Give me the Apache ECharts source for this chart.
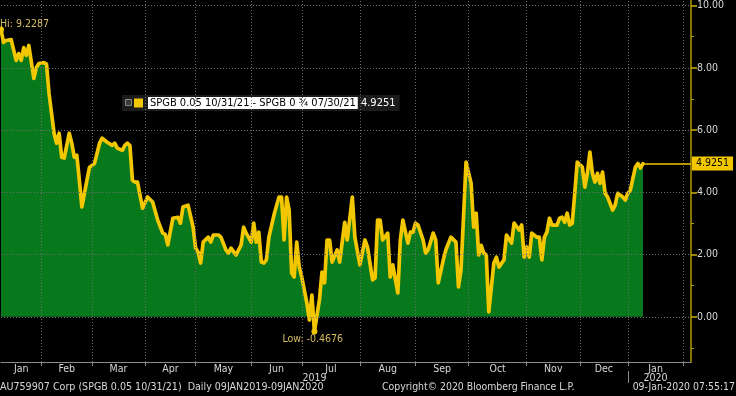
<!DOCTYPE html>
<html>
<head>
<meta charset="utf-8">
<script src="https://cdn.jsdelivr.net/npm/echarts@6/dist/echarts.min.js"></script>
<style>
html,body{margin:0;padding:0;background:#000;}
#chart{width:736px;height:396px;}
</style>
</head>
<body>
<div id="chart"></div>
<script>
// trading-day index (0 = 09 Jan 2019) and spread values
const dayIndex = [0,1,2,4,6,7,8,9,10,11,13,14,15,17,18,19,21,22,23,24,25,27,28,29,30,31,32,34,35,37,39,40,42,44,45,46,48,49,50,51,52,53,54,56,58,60,62,64,65,66,68,70,71,72,74,76,77,78,79,80,82,83,84,86,87,89,90,91,93,95,96,97,99,100,101,102,103,104,105,106,108,110,111,112,113,114,115,116,117,118,119,121,122,123,124,126,127,128,129,130,131,133,134,136,137,139,140,142,144,145,147,148,149,150,151,153,154,155,157,158,159,161,162,163,164,165,167,168,169,171,172,173,175,176,178,180,181,182,183,184,186,187,188,189,190,191,192,193,195,196,197,199,200,202,203,205,206,207,208,209,210,212,213,214,215,216,217,218,220,221,222,223,224,225,226,227,228,230,231,232,233,234,235,236,237,238,239,240,242,243,244,246,247,248,249,251,252,253,254];
const spread = [9.2287,8.82,8.88,8.91,8.24,8.46,8.24,8.65,8.40,8.72,7.66,8.01,8.14,8.17,8.12,7.18,5.90,5.58,5.90,5.13,5.10,5.90,5.58,5.13,5.19,4.39,3.53,4.39,4.80,4.93,5.58,5.74,5.61,5.51,5.58,5.42,5.35,5.51,5.58,5.50,4.39,4.33,4.33,3.49,3.85,3.69,3.11,2.69,2.65,2.31,3.17,3.20,3.01,3.53,3.59,2.88,2.21,2.08,1.73,2.40,2.56,2.40,2.63,2.63,2.56,2.15,2.05,2.21,1.99,2.31,2.88,2.69,2.40,3.01,2.40,2.72,1.76,1.73,1.83,2.56,3.27,3.85,3.85,2.47,3.85,3.43,1.41,1.28,2.40,1.60,1.28,0.45,-0.10,0.70,-0.4676,0.55,1.44,1.09,2.47,2.47,1.76,2.15,1.76,3.04,2.47,3.85,2.56,1.67,2.47,2.24,1.19,1.25,3.11,3.11,2.47,2.69,1.28,1.67,0.77,2.47,3.11,2.37,2.72,2.72,3.01,2.95,2.47,2.05,2.15,2.69,2.47,1.09,1.83,2.15,2.56,2.40,0.96,1.51,3.20,4.97,4.29,2.88,3.33,1.99,2.30,2.05,1.99,0.16,1.73,1.92,1.60,1.83,2.63,2.37,3.01,2.79,2.95,1.92,2.24,1.92,2.69,2.56,2.56,1.83,2.56,2.72,3.17,2.95,2.95,3.17,3.20,3.04,3.33,2.95,3.00,3.97,4.97,4.81,4.17,4.61,5.29,4.61,4.33,4.61,4.29,4.65,3.97,3.85,3.43,3.59,3.97,3.85,3.75,3.97,4.07,4.81,4.93,4.78,4.9251];

// x axis: month boundaries (trading-day index) and labels
const monthStarts = [16,36,57,77,99,119,142,164,185,208,229,248,270];
const monthNames = ['Jan','Feb','Mar','Apr','May','Jun','Jul','Aug','Sep','Oct','Nov','Dec','Jan'];
const yearNames = ['2019','2020'];
const yearLabelPos = [124,259];
const yearBoundary = [248];
const xMax = 273;

// y axis ticks
const yMajor = [0,2,4,6,8,10];
const yMinor = [-1,1,3,5,7,9];
const yMin = -1.45, yMax = 10.18;

const seriesName = 'SPGB 0.05 10/31/21 - SPGB 0 \u00BE 07/30/21';
const FONT = "'DejaVu Sans Condensed','DejaVu Sans',sans-serif";

const data = dayIndex.map((d,i)=>[d, spread[i]]);
const lastIdx = dayIndex[dayIndex.length-1];
const lastVal = spread[spread.length-1];
const bounds = [0].concat(monthStarts);
const labelPos = monthNames.map((n,i)=>(bounds[i]+bounds[i+1])/2);

const gridColor = '#6e6e6e';
const yellow = '#f2c700';
const green = '#08781c';
const txt = '#d8d8d8';

const chart = echarts.init(document.getElementById('chart'), null, {renderer:'canvas'});
chart.setOption({
  backgroundColor:'#000',
  animation:false,
  textStyle:{fontFamily:FONT},
  title:[
    {text:'AU759907 Corp (SPGB 0.05 10/31/21)  Daily 09JAN2019-09JAN2020', left:0, top:382, padding:0,
     textStyle:{color:txt, fontSize:10.6, fontWeight:'normal', fontFamily:FONT}},
    {text:'Copyright\u00A9 2020 Bloomberg Finance L.P.', left:382, top:382, padding:0,
     textStyle:{color:txt, fontSize:10.4, fontWeight:'normal', fontFamily:FONT}},
    {text:'09-Jan-2020 07:55:17', right:1, top:382, padding:0,
     textStyle:{color:txt, fontSize:10.4, fontWeight:'normal', fontFamily:FONT}}
  ],
  graphic:[
    {type:'rect', left:125, top:99, z:100, shape:{width:6, height:6},
     style:{fill:'#3a3a3a', stroke:'#8a8a8a', lineWidth:1}}
  ],
  legend:{
    show:true, left:122, top:95, data:[seriesName],
    backgroundColor:'#1c1c1c', padding:[2,4,2,12],
    itemWidth:9, itemHeight:9, itemGap:4, icon:'rect',
    selectedMode:false,
    formatter:function(name){ return '{t|'+name+'} {v|'+lastVal.toFixed(4)+'}'; },
    textStyle:{
      fontFamily:FONT, fontSize:11,
      rich:{
        t:{backgroundColor:'#ffffff', color:'#000', padding:[1,2,0,2], fontSize:11, fontFamily:FONT},
        v:{color:'#ffffff', fontSize:11, fontFamily:FONT}
      }
    }
  },
  grid:{left:1, right:45, top:0, bottom:34, containLabel:false},
  xAxis:[
    {type:'value', min:0, max:xMax,
     axisLine:{show:true, onZero:false, lineStyle:{color:'#8c8c8c', width:1}},
     axisTick:{show:true, customValues:monthStarts, length:4, lineStyle:{color:'#8c8c8c'}},
     axisLabel:{show:true, customValues:labelPos, margin:2, color:txt, fontSize:10.5, fontFamily:FONT,
       formatter:function(v){ const i = labelPos.indexOf(v); return i>=0 ? monthNames[i] : ''; }},
     splitLine:{show:false}},
    {type:'value', min:0, max:xMax, position:'bottom', offset:9,
     axisLine:{show:false, onZero:false},
     axisTick:{show:true, customValues:yearBoundary, length:12, lineStyle:{color:'#8c8c8c'}},
     axisLabel:{show:true, customValues:yearLabelPos, margin:2, color:txt, fontSize:10.5, fontFamily:FONT,
       formatter:function(v){ const i = yearLabelPos.indexOf(v); return i>=0 ? yearNames[i] : ''; }},
     splitLine:{show:false}}
  ],
  yAxis:[
    {type:'value', position:'right', min:yMin, max:yMax,
     axisLine:{show:true, onZero:false, lineStyle:{color:'#b09a00', width:1.5}},
     axisTick:{show:true, customValues:yMajor, length:6, lineStyle:{color:'#d0b000', width:1.5}},
     axisLabel:{show:true, customValues:yMajor, margin:6, color:txt, fontSize:10.5, fontFamily:FONT,
       formatter:function(v){ return v.toFixed(2); }},
     splitLine:{show:false}},
    {type:'value', position:'right', offset:0, min:yMin, max:yMax,
     axisLine:{show:false, onZero:false},
     axisTick:{show:true, customValues:yMinor, length:3, lineStyle:{color:'#b09a00', width:1}},
     axisLabel:{show:false},
     splitLine:{show:false}}
  ],
  series:[
    {type:'line', name:'area', data:data, z:1, symbol:'none', silent:true,
     lineStyle:{width:0, opacity:0}, areaStyle:{color:green, opacity:1}},
    {type:'line', name:'grid', data:[], z:2, silent:true,
     markLine:{silent:true, symbol:['none','none'], label:{show:false},
       lineStyle:{color:gridColor, type:[1,2], width:1},
       animation:false,
       data: monthStarts.map(v=>({xAxis:v})).concat(yMajor.map(v=>({yAxis:v})))}},
    {type:'line', name:seriesName, data:data, z:3, symbol:'none',
     lineStyle:{color:yellow, width:3.7, join:'round', cap:'round'},
     itemStyle:{color:yellow},
     markPoint:{
       symbol:'circle', symbolSize:6, itemStyle:{color:yellow},
       data:[
         {type:'max', valueIndex:1,
          label:{show:true, position:[2,-8], color:'#d6bc62', fontSize:10.5, fontFamily:FONT,
                 formatter:function(p){ return 'Hi: '+Number(p.value).toFixed(4); }}},
         {type:'min', valueIndex:1,
          label:{show:true, position:[-29,5], color:'#d6bc62', fontSize:10.5, fontFamily:FONT,
                 formatter:function(p){ return 'Low: '+Number(p.value).toFixed(4); }}}
       ]
     },
     markLine:{
       silent:true, symbol:['none','none'],
       lineStyle:{color:yellow, width:1.5, type:'solid'},
       label:{show:true, position:'end', distance:1, backgroundColor:yellow, color:'#000',
              padding:[2,4,1,4], fontSize:10.5, fontFamily:FONT,
              formatter:function(){ return lastVal.toFixed(4); }},
       data:[[{coord:[lastIdx,lastVal]},{coord:[xMax,lastVal]}]]
     }}
  ]
});
</script>
</body>
</html>
